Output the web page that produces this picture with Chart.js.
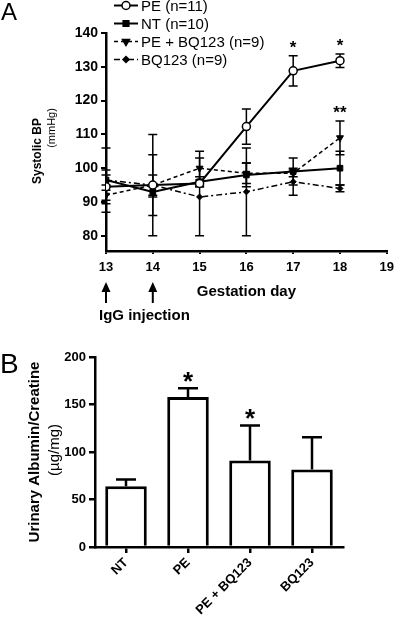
<!DOCTYPE html>
<html>
<head>
<meta charset="utf-8">
<script src="https://cdn.jsdelivr.net/npm/chart.js@4.4.1/dist/chart.umd.min.js"></script>
<style>
  body { margin: 0; background: #fff; }
  canvas { position: absolute; left: 0; }
  #chartA { top: 0; }
  #chartB { top: 330px; }
</style>
</head>
<body>
<canvas id="chartA" width="400" height="330"></canvas>
<canvas id="chartB" width="400" height="293"></canvas>
<script>
// ---- panel A data (systolic BP, mmHg, mean and SEM) ----
const days = [13, 14, 15, 16, 17, 18];
const peBP = [94.5, 95, 95.5, 112.3, 128.8, 131.8];
const peErr = [5, 9, 1, 5.2, 4.5, 2];
const ntBP = [96.5, 93, 96, 98, 99, 100];
const ntErr = [1.5, 1.5, 1.5, 3.5, 4, 5];
const peBqBP = [92, 95, 100, 98.5, 98.5, 109];
const peBqErr = [1.5, 3, 5, 3, 1, 5];
const bqBP = [96.5, 95, 91.5, 93, 96, 94];
const bqErr = [9.5, 15, 11.5, 13, 4, 1];
const peSig = ['', '', '', '', '*', '*'];
const peBqSig = ['', '', '', '', '', '**'];
const injectionDays = [13, 14];
const bpTicks = [80, 90, 100, 110, 120, 130, 140];

// ---- panel B data (urinary albumin/creatine, ug/mg) ----
const groups = ['NT', 'PE', 'PE + BQ123', 'BQ123'];
const albumin = [64, 158, 91, 81.5];
const albuminErr = [7, 9, 37, 34];
const albuminSig = ['', '*', '*', ''];

const FONT = '"Liberation Sans", Arial, Helvetica, sans-serif';

function pts(ys) {
  return days.map((d, i) => ({ x: d, y: ys[i] }));
}

// error bars, drawn under the markers
const errorBars = {
  id: 'errorBars',
  beforeDatasetsDraw(chart, args, opts) {
    const ctx = chart.ctx;
    const ys = chart.scales.y;
    chart.data.datasets.forEach((ds, i) => {
      if (!ds.err) return;
      const meta = chart.getDatasetMeta(i);
      ctx.save();
      ctx.strokeStyle = '#000';
      ctx.lineWidth = opts.width;
      ctx.setLineDash([]);
      meta.data.forEach((el, j) => {
        const v = meta.controller.getParsed(j).y;
        const e = ds.err[j];
        const top = ys.getPixelForValue(v + e);
        const bot = opts.upOnly ? ys.getPixelForValue(v) : ys.getPixelForValue(v - e);
        ctx.beginPath();
        ctx.moveTo(el.x, top); ctx.lineTo(el.x, bot);
        ctx.moveTo(el.x - opts.cap, top); ctx.lineTo(el.x + opts.cap, top);
        if (!opts.upOnly) { ctx.moveTo(el.x - opts.cap, bot); ctx.lineTo(el.x + opts.cap, bot); }
        ctx.stroke();
      });
      ctx.restore();
    });
  },
  afterDatasetsDraw(chart, args, opts) {
    const ctx = chart.ctx;
    const ys = chart.scales.y;
    chart.data.datasets.forEach((ds, i) => {
      if (!ds.sig) return;
      const meta = chart.getDatasetMeta(i);
      ctx.save();
      ctx.fillStyle = '#000';
      ctx.font = 'bold ' + opts.sigSize + 'px ' + FONT;
      ctx.textAlign = 'center';
      ctx.textBaseline = 'middle';
      meta.data.forEach((el, j) => {
        if (!ds.sig[j]) return;
        const v = meta.controller.getParsed(j).y;
        const y = ys.getPixelForValue(v + ds.err[j]) - opts.sigGap;
        ctx.fillText(ds.sig[j], el.x, y + opts.sigSize * 0.22);
      });
      ctx.restore();
    });
  }
};

// legend and extra labels of panel A
const panelA = {
  id: 'panelA',
  afterDraw(chart) {
    const ctx = chart.ctx;
    const xs = chart.scales.x;
    ctx.save();
    ctx.fillStyle = '#000';
    ctx.strokeStyle = '#000';

    ctx.font = '24px ' + FONT;
    ctx.textBaseline = 'alphabetic';
    ctx.fillText('A', 1, 20);

    // legend
    const rows = [5.5, 23.5, 41.5, 59.5];
    chart.data.datasets.forEach((ds, i) => {
      const y = rows[i];
      ctx.lineWidth = ds.borderWidth;
      ctx.setLineDash(ds.borderDash || []);
      ctx.beginPath(); ctx.moveTo(114, y); ctx.lineTo(138, y); ctx.stroke();
      ctx.setLineDash([]);
      ctx.fillStyle = ds.pointBackgroundColor;
      ctx.lineWidth = 1.5;
      Chart.helpers.drawPoint(ctx, {
        pointStyle: ds.pointStyle, rotation: ds.pointRotation || 0,
        radius: ds.pointRadius, borderWidth: 1.5
      }, 126, y);
      ctx.fillStyle = '#000';
      ctx.font = '15px ' + FONT;
      ctx.textBaseline = 'middle';
      ctx.textAlign = 'left';
      ctx.fillText(ds.label, 141, y + 1);
    });

    // y title
    ctx.save();
    ctx.translate(38, 151);
    ctx.rotate(-Math.PI / 2);
    ctx.textAlign = 'center';
    ctx.textBaseline = 'middle';
    ctx.font = 'bold 12px ' + FONT;
    ctx.fillText('Systolic BP', 0, 0);
    ctx.restore();
    ctx.save();
    ctx.translate(52, 128);
    ctx.rotate(-Math.PI / 2);
    ctx.textAlign = 'center';
    ctx.textBaseline = 'middle';
    ctx.font = '11px ' + FONT;
    ctx.fillText('(mmHg)', 0, 0);
    ctx.restore();

    // x title
    ctx.textAlign = 'center';
    ctx.textBaseline = 'middle';
    ctx.font = 'bold 15px ' + FONT;
    ctx.fillText('Gestation day', (chart.chartArea.left + chart.chartArea.right) / 2, 292);

    // injection arrows
    injectionDays.forEach(d => {
      const x = xs.getPixelForValue(d);
      ctx.lineWidth = 2;
      ctx.beginPath(); ctx.moveTo(x, 303); ctx.lineTo(x, 288); ctx.stroke();
      ctx.beginPath();
      ctx.moveTo(x, 282); ctx.lineTo(x - 4.5, 292); ctx.lineTo(x + 4.5, 292);
      ctx.closePath(); ctx.fill();
    });
    ctx.textAlign = 'left';
    ctx.fillText('IgG injection', 99, 316);
    ctx.restore();
  }
};

const panelB = {
  id: 'panelB',
  afterDraw(chart) {
    const ctx = chart.ctx;
    ctx.save();
    ctx.fillStyle = '#000';
    ctx.font = '28px ' + FONT;
    ctx.fillText('B', 0, 43);
    const cy = (chart.chartArea.top + chart.chartArea.bottom) / 2;
    ctx.save();
    ctx.translate(35, cy);
    ctx.rotate(-Math.PI / 2);
    ctx.textAlign = 'center';
    ctx.textBaseline = 'middle';
    ctx.font = 'bold 15px ' + FONT;
    ctx.fillText('Urinary Albumin/Creatine', 0, 0);
    ctx.restore();
    ctx.save();
    ctx.translate(55, cy - 2);
    ctx.rotate(-Math.PI / 2);
    ctx.textAlign = 'center';
    ctx.textBaseline = 'middle';
    ctx.font = '15px ' + FONT;
    ctx.fillText('(\u00b5g/mg)', 0, 0);
    ctx.restore();
    ctx.restore();
  }
};

const tickFont = { family: FONT, size: 13, weight: 'bold' };
const yTickFontA = { family: FONT, size: 14, weight: 'bold' };

new Chart(document.getElementById('chartA'), {
  type: 'line',
  data: {
    datasets: [
      { label: 'PE (n=11)', data: pts(peBP), err: peErr, sig: peSig,
        borderColor: '#000', borderWidth: 2, pointStyle: 'circle', pointRadius: 4,
        pointBackgroundColor: '#fff', pointBorderColor: '#000', pointBorderWidth: 1.5 },
      { label: 'NT (n=10)', data: pts(ntBP), err: ntErr,
        borderColor: '#000', borderWidth: 2, pointStyle: 'rect', pointRadius: 4,
        pointBackgroundColor: '#000', pointBorderColor: '#000', pointBorderWidth: 1 },
      { label: 'PE + BQ123 (n=9)', data: pts(peBqBP), err: peBqErr, sig: peBqSig,
        borderColor: '#000', borderWidth: 1.5, borderDash: [4, 3], pointStyle: 'triangle',
        pointRotation: 180, pointRadius: 4,
        pointBackgroundColor: '#000', pointBorderColor: '#000', pointBorderWidth: 1 },
      { label: 'BQ123 (n=9)', data: pts(bqBP), err: bqErr,
        borderColor: '#000', borderWidth: 1.5, borderDash: [6, 3, 2, 3], pointStyle: 'rectRot',
        pointRadius: 3,
        pointBackgroundColor: '#000', pointBorderColor: '#000', pointBorderWidth: 1 }
    ]
  },
  options: {
    responsive: false,
    animation: false,
    layout: { padding: { top: 33, right: 8, left: 0, bottom: 0 } },
    plugins: {
      legend: { display: false },
      tooltip: { enabled: false },
      errorBars: { width: 1.5, cap: 4.5, upOnly: false, sigSize: 17, sigGap: 11 }
    },
    scales: {
      x: {
        type: 'linear', min: 13, max: 19,
        afterFit: s => { s.height = 79; },
        ticks: { stepSize: 1, color: '#000', font: tickFont, padding: 6 },
        grid: { drawOnChartArea: false, color: '#000', lineWidth: 2, tickLength: 3 },
        border: { color: '#000', width: 2.5 }
      },
      y: {
        min: 75.5, max: 140,
        afterFit: s => { s.width = 106; },
        afterBuildTicks: s => { s.ticks = bpTicks.map(v => ({ value: v })); },
        ticks: { color: '#000', font: yTickFontA, padding: 3, autoSkip: false },
        grid: { drawOnChartArea: false, color: '#000', lineWidth: 2, tickLength: 5 },
        border: { color: '#000', width: 2.5 }
      }
    }
  },
  plugins: [errorBars, panelA]
});

new Chart(document.getElementById('chartB'), {
  type: 'bar',
  data: {
    labels: groups,
    datasets: [{
      data: albumin, err: albuminErr, sig: albuminSig,
      backgroundColor: '#fff', borderColor: '#000', borderWidth: 3,
      barPercentage: 0.67, categoryPercentage: 1
    }]
  },
  options: {
    responsive: false,
    animation: false,
    layout: { padding: { top: 27, right: 57, left: 0, bottom: 0 } },
    plugins: {
      legend: { display: false },
      tooltip: { enabled: false },
      errorBars: { width: 2.5, cap: 10, upOnly: true, sigSize: 26, sigGap: 11 }
    },
    scales: {
      x: {
        afterFit: s => { s.height = 76; },
        ticks: { color: '#000', font: tickFont, minRotation: 45, maxRotation: 45, autoSkip: false, padding: 2 },
        grid: { drawOnChartArea: false, offset: false, color: '#000', lineWidth: 2.5, tickLength: 6 },
        border: { color: '#000', width: 2.5 }
      },
      y: {
        min: 0, max: 200,
        afterFit: s => { s.width = 95; },
        ticks: { stepSize: 50, color: '#000', font: tickFont, padding: 3, autoSkip: false },
        grid: { drawOnChartArea: false, color: '#000', lineWidth: 2.5, tickLength: 6 },
        border: { color: '#000', width: 2.5 }
      }
    }
  },
  plugins: [errorBars, panelB]
});
</script>
</body>
</html>
